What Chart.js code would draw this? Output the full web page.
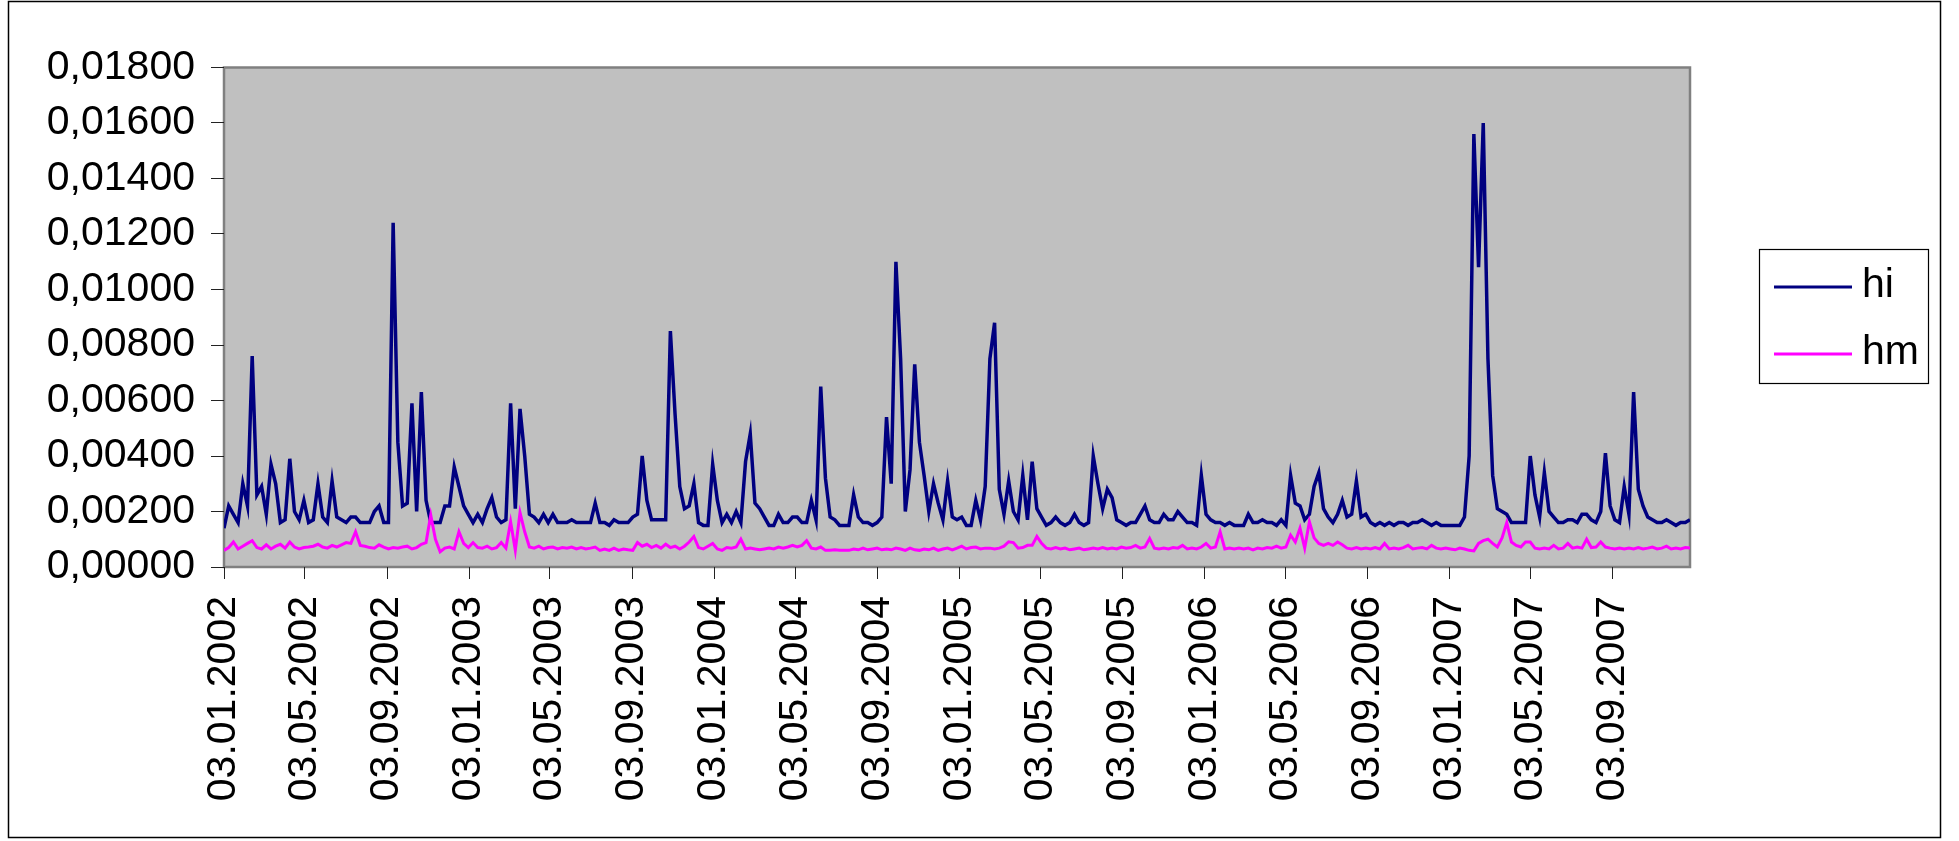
<!DOCTYPE html>
<html>
<head>
<meta charset="utf-8">
<title>hi / hm</title>
<script src="https://cdn.jsdelivr.net/npm/chart.js@4.4.1/dist/chart.umd.min.js"></script>
<style>
  html, body { margin: 0; padding: 0; background: #fff; }
  canvas { display: block; }
</style>
</head>
<body>
<canvas id="hiChart" width="1959" height="841"></canvas>
<script>
// weekly readings, first one on 03.01.2002 (day 0)
const stepDays = 7;
const lastDay = 2184;

// x axis ticks (days after 03.01.2002) and their labels
const tickDays = [0, 120, 243, 365, 485, 608, 730, 851, 974, 1096, 1216, 1339, 1461, 1581, 1704, 1826, 1946, 2069];
const tickLabels = ['03.01.2002', '03.05.2002', '03.09.2002', '03.01.2003', '03.05.2003', '03.09.2003',
                    '03.01.2004', '03.05.2004', '03.09.2004', '03.01.2005', '03.05.2005', '03.09.2005',
                    '03.01.2006', '03.05.2006', '03.09.2006', '03.01.2007', '03.05.2007', '03.09.2007'];

// y axis
const yMin = 0;
const yMax = 0.018;
const yStep = 0.002;

const hi = [
  0.0014, 0.0022, 0.0019, 0.0016, 0.0030, 0.0022, 0.0076, 0.0026, 0.0029, 0.0019,
  0.0037, 0.0030, 0.0016, 0.0017, 0.0039, 0.0020, 0.0017, 0.0024, 0.0016, 0.0017,
  0.0030, 0.0018, 0.0016, 0.0031, 0.0018, 0.0017, 0.0016, 0.0018, 0.0018, 0.0016,
  0.0016, 0.0016, 0.0020, 0.0022, 0.0016, 0.0016, 0.0124, 0.0045, 0.0022, 0.0023,
  0.0059, 0.0020, 0.0063, 0.0024, 0.0016, 0.0016, 0.0016, 0.0022, 0.0022, 0.0036,
  0.0029, 0.0022, 0.0019, 0.0016, 0.0019, 0.0016, 0.0021, 0.0025, 0.0018, 0.0016,
  0.0017, 0.0059, 0.0021, 0.0057, 0.0040, 0.0019, 0.0018, 0.0016, 0.0019, 0.0016,
  0.0019, 0.0016, 0.0016, 0.0016, 0.0017, 0.0016, 0.0016, 0.0016, 0.0016, 0.0023,
  0.0016, 0.0016, 0.0015, 0.0017, 0.0016, 0.0016, 0.0016, 0.0018, 0.0019, 0.0040,
  0.0024, 0.0017, 0.0017, 0.0017, 0.0017, 0.0085, 0.0055, 0.0029, 0.0021, 0.0022,
  0.0030, 0.0016, 0.0015, 0.0015, 0.0037, 0.0024, 0.0016, 0.0019, 0.0016, 0.0020,
  0.0016, 0.0038, 0.0048, 0.0023, 0.0021, 0.0018, 0.0015, 0.0015, 0.0019, 0.0016,
  0.0016, 0.0018, 0.0018, 0.0016, 0.0016, 0.0024, 0.0017, 0.0065, 0.0032, 0.0018,
  0.0017, 0.0015, 0.0015, 0.0015, 0.0026, 0.0018, 0.0016, 0.0016, 0.0015, 0.0016,
  0.0018, 0.0054, 0.0030, 0.0110, 0.0075, 0.0020, 0.0035, 0.0073, 0.0045, 0.0033,
  0.0020, 0.0030, 0.0023, 0.0017, 0.0031, 0.0018, 0.0017, 0.0018, 0.0015, 0.0015,
  0.0024, 0.0017, 0.0029, 0.0075, 0.0088, 0.0028, 0.0019, 0.0031, 0.0020, 0.0017,
  0.0033, 0.0017, 0.0038, 0.0021, 0.0018, 0.0015, 0.0016, 0.0018, 0.0016, 0.0015,
  0.0016, 0.0019, 0.0016, 0.0015, 0.0016, 0.0040, 0.0030, 0.0021, 0.0028, 0.0025,
  0.0017, 0.0016, 0.0015, 0.0016, 0.0016, 0.0019, 0.0022, 0.0017, 0.0016, 0.0016,
  0.0019, 0.0017, 0.0017, 0.0020, 0.0018, 0.0016, 0.0016, 0.0015, 0.0033, 0.0019,
  0.0017, 0.0016, 0.0016, 0.0015, 0.0016, 0.0015, 0.0015, 0.0015, 0.0019, 0.0016,
  0.0016, 0.0017, 0.0016, 0.0016, 0.0015, 0.0017, 0.0015, 0.0033, 0.0023, 0.0022,
  0.0017, 0.0019, 0.0029, 0.0034, 0.0021, 0.0018, 0.0016, 0.0019, 0.0024, 0.0018,
  0.0019, 0.0031, 0.0018, 0.0019, 0.0016, 0.0015, 0.0016, 0.0015, 0.0016, 0.0015,
  0.0016, 0.0016, 0.0015, 0.0016, 0.0016, 0.0017, 0.0016, 0.0015, 0.0016, 0.0015,
  0.0015, 0.0015, 0.0015, 0.0015, 0.0018, 0.0040, 0.0156, 0.0108, 0.0160, 0.0075,
  0.0033, 0.0021, 0.0020, 0.0019, 0.0016, 0.0016, 0.0016, 0.0016, 0.0040, 0.0026,
  0.0018, 0.0034, 0.0020, 0.0018, 0.0016, 0.0016, 0.0017, 0.0017, 0.0016, 0.0019,
  0.0019, 0.0017, 0.0016, 0.0020, 0.0041, 0.0022, 0.0017, 0.0016, 0.0029, 0.0019,
  0.0063, 0.0028, 0.0022, 0.0018, 0.0017, 0.0016, 0.0016, 0.0017, 0.0016, 0.0015,
  0.0016, 0.0016, 0.0017
];

const hm = [
  0.00060, 0.00070, 0.00090, 0.00065, 0.00075, 0.00085, 0.00095, 0.00070, 0.00065, 0.00080,
  0.00065, 0.00075, 0.00082, 0.00068, 0.00090, 0.00072, 0.00065, 0.00070, 0.00072, 0.00075,
  0.00082, 0.00072, 0.00068, 0.00078, 0.00072, 0.00080, 0.00088, 0.00085, 0.00127, 0.00078,
  0.00075, 0.00070, 0.00068, 0.00080, 0.00072, 0.00065, 0.00070, 0.00068, 0.00072, 0.00075,
  0.00065, 0.00070, 0.00082, 0.00088, 0.00187, 0.00100, 0.00055, 0.00068, 0.00072, 0.00065,
  0.00127, 0.00085, 0.00070, 0.00088, 0.00070, 0.00068, 0.00075, 0.00065, 0.00070, 0.00088,
  0.00068, 0.00163, 0.00060, 0.00196, 0.00127, 0.00072, 0.00068, 0.00075, 0.00065, 0.00070,
  0.00072, 0.00065, 0.00070, 0.00068, 0.00072, 0.00065, 0.00070, 0.00065, 0.00068, 0.00072,
  0.00060, 0.00065, 0.00060, 0.00068, 0.00060, 0.00065, 0.00062, 0.00060, 0.00088, 0.00075,
  0.00082, 0.00070, 0.00078, 0.00068, 0.00082, 0.00070, 0.00075, 0.00065, 0.00075, 0.00090,
  0.00110, 0.00070, 0.00065, 0.00075, 0.00085, 0.00065, 0.00060, 0.00070, 0.00068, 0.00072,
  0.00100, 0.00065, 0.00068, 0.00065, 0.00062, 0.00065, 0.00068, 0.00065, 0.00072, 0.00068,
  0.00072, 0.00078, 0.00072, 0.00078, 0.00095, 0.00068, 0.00065, 0.00072, 0.00060, 0.00060,
  0.00062, 0.00060, 0.00060, 0.00060, 0.00065, 0.00062, 0.00068, 0.00062, 0.00065, 0.00068,
  0.00062, 0.00065, 0.00062, 0.00068, 0.00065, 0.00060, 0.00068, 0.00062, 0.00060, 0.00065,
  0.00062, 0.00068, 0.00060, 0.00065, 0.00068, 0.00062, 0.00068, 0.00075, 0.00065, 0.00070,
  0.00072, 0.00065, 0.00068, 0.00068, 0.00065, 0.00068, 0.00075, 0.00091, 0.00088, 0.00068,
  0.00070, 0.00078, 0.00078, 0.00110, 0.00085, 0.00068, 0.00065, 0.00070, 0.00065, 0.00068,
  0.00062, 0.00065, 0.00068, 0.00062, 0.00065, 0.00068, 0.00065, 0.00070, 0.00065, 0.00068,
  0.00065, 0.00072, 0.00068, 0.00070, 0.00078, 0.00068, 0.00072, 0.00103, 0.00068, 0.00065,
  0.00068, 0.00065, 0.00070, 0.00068, 0.00078, 0.00065, 0.00068, 0.00065, 0.00072, 0.00085,
  0.00068, 0.00072, 0.00127, 0.00065, 0.00068, 0.00065, 0.00068, 0.00065, 0.00068, 0.00062,
  0.00068, 0.00065, 0.00070, 0.00068, 0.00075, 0.00068, 0.00072, 0.00115, 0.00090, 0.00140,
  0.00068, 0.00163, 0.00105, 0.00085, 0.00078, 0.00085, 0.00078, 0.00090, 0.00080, 0.00068,
  0.00065, 0.00070, 0.00065, 0.00068, 0.00065, 0.00070, 0.00065, 0.00085, 0.00065, 0.00068,
  0.00065, 0.00070, 0.00078, 0.00065, 0.00068, 0.00070, 0.00065, 0.00078, 0.00068, 0.00065,
  0.00068, 0.00065, 0.00062, 0.00068, 0.00065, 0.00060, 0.00058, 0.00085, 0.00095, 0.00100,
  0.00085, 0.00072, 0.00105, 0.00160, 0.00090, 0.00078, 0.00072, 0.00090, 0.00090, 0.00068,
  0.00065, 0.00068, 0.00065, 0.00078, 0.00065, 0.00068, 0.00085, 0.00068, 0.00072, 0.00068,
  0.00100, 0.00070, 0.00072, 0.00090, 0.00072, 0.00068, 0.00065, 0.00068, 0.00065, 0.00068,
  0.00065, 0.00070, 0.00065, 0.00068, 0.00072, 0.00065, 0.00068, 0.00075, 0.00065, 0.00068,
  0.00065, 0.00070, 0.00068
];

const FONT = '"Liberation Sans", Arial, sans-serif';
Chart.defaults.font.family = FONT;
Chart.defaults.font.size = 41;
Chart.defaults.color = '#000';

function toPoints(values) {
  return values.map((v, i) => ({ x: i * stepDays, y: v }));
}

// white page, outer frame, grey plot area and the boxed legend on the right
const excelFrame = {
  id: 'excelFrame',
  beforeDraw(chart) {
    const { ctx, chartArea: a } = chart;
    ctx.save();
    ctx.fillStyle = '#fff';
    ctx.fillRect(0, 0, chart.width, chart.height);
    ctx.strokeStyle = '#000';
    ctx.lineWidth = 1.5;
    ctx.strokeRect(8.5, 1.5, 1932, 836);
    ctx.fillStyle = '#c0c0c0';
    ctx.fillRect(a.left, a.top, a.right - a.left, a.bottom - a.top);
    ctx.strokeStyle = '#808080';
    ctx.lineWidth = 2.5;
    ctx.strokeRect(a.left, a.top, a.right - a.left, a.bottom - a.top);
    ctx.restore();
  },
  afterDraw(chart) {
    const { ctx } = chart;
    ctx.save();
    ctx.strokeStyle = '#000';
    ctx.lineWidth = 1.2;
    ctx.strokeRect(1759.5, 249.5, 169, 134);
    ctx.font = '41px ' + FONT;
    ctx.textBaseline = 'alphabetic';
    ctx.textAlign = 'left';
    chart.data.datasets.forEach((ds, i) => {
      const y = 287 + i * 67;
      ctx.strokeStyle = ds.borderColor;
      ctx.lineWidth = 3;
      ctx.beginPath();
      ctx.moveTo(1774, y);
      ctx.lineTo(1852, y);
      ctx.stroke();
      ctx.fillStyle = '#000';
      ctx.fillText(ds.label, 1862, y + 10);
    });
    ctx.restore();
  }
};

const ctx = document.getElementById('hiChart').getContext('2d');
new Chart(ctx, {
  type: 'line',
  data: {
    datasets: [
      {
        label: 'hi',
        data: toPoints(hi),
        borderColor: '#000080',
        borderWidth: 3.5,
        pointRadius: 0,
        tension: 0,
        order: 2
      },
      {
        label: 'hm',
        data: toPoints(hm),
        borderColor: '#ff00ff',
        borderWidth: 3,
        pointRadius: 0,
        tension: 0,
        order: 1
      }
    ]
  },
  options: {
    responsive: false,
    animation: false,
    events: [],
    layout: { padding: { top: 67.5, right: 269, bottom: 0, left: 0 } },
    plugins: {
      legend: { display: false },
      tooltip: { enabled: false }
    },
    scales: {
      x: {
        type: 'linear',
        min: 0,
        max: lastDay,
        afterBuildTicks: scale => { scale.ticks = tickDays.map(d => ({ value: d })); },
        afterFit: scale => { scale.height = 274; },
        border: { display: false },
        grid: { drawOnChartArea: false, drawTicks: true, tickLength: 12, color: '#222', lineWidth: 1 },
        ticks: {
          autoSkip: false,
          minRotation: 90,
          maxRotation: 90,
          padding: 17,
          callback: (value, index) => tickLabels[index]
        }
      },
      y: {
        min: yMin,
        max: yMax,
        afterFit: scale => { scale.width = 224; },
        border: { display: false },
        grid: { drawOnChartArea: false, drawTicks: true, tickLength: 13, color: '#222', lineWidth: 1 },
        ticks: {
          stepSize: yStep,
          padding: 16,
          callback: value => value.toFixed(5).replace('.', ',')
        }
      }
    }
  },
  plugins: [excelFrame]
});
</script>
</body>
</html>
